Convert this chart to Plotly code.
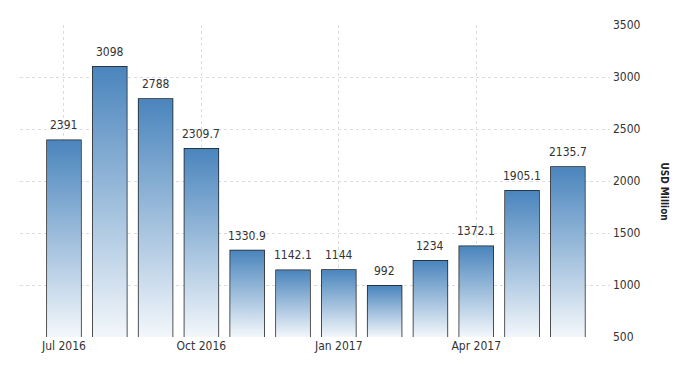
import plotly.graph_objects as go

months = ["Jul 2016", "Aug 2016", "Sep 2016", "Oct 2016", "Nov 2016", "Dec 2016",
          "Jan 2017", "Feb 2017", "Mar 2017", "Apr 2017", "May 2017", "Jun 2017"]
values = [2391, 3098, 2788, 2309.7, 1330.9, 1142.1, 1144, 992, 1234, 1372.1, 1905.1, 2135.7]
labels = ["2391", "3098", "2788", "2309.7", "1330.9", "1142.1", "1144", "992", "1234",
          "1372.1", "1905.1", "2135.7"]
tick_idx = [0, 3, 6, 9]
tick_text = ["Jul 2016", "Oct 2016", "Jan 2017", "Apr 2017"]
y_ticks = [500, 1000, 1500, 2000, 2500, 3000, 3500]

FONT = "DejaVu Sans Condensed, Liberation Sans Narrow, Arial Narrow, Liberation Sans, sans-serif"
BAR_W = 0.74
Y_MIN, Y_MAX = 500, 3500

fig = go.Figure()

# gradient fills for each bar
for i, v in enumerate(values):
    fig.add_trace(go.Scatter(
        x=[i - BAR_W / 2, i + BAR_W / 2], y=[v, v],
        mode="lines", line=dict(width=0), fill="tozeroy",
        fillgradient=dict(type="vertical",
                          colorscale=[[0, "#f3f7fb"], [1, "#4a85bd"]],
                          start=Y_MIN, stop=v),
        hoverinfo="skip", showlegend=False))

# outlines
fig.add_trace(go.Bar(
    x=list(range(len(values))), y=values, width=BAR_W,
    marker=dict(color="rgba(0,0,0,0)", line=dict(color="#1c1c1c", width=1.5)),
    hoverinfo="y", showlegend=False))

annotations = [dict(x=i, y=v, text=t, xref="x", yref="y", showarrow=False,
                    yanchor="bottom", yshift=6,
                    font=dict(family=FONT, size=12, color="#333333"))
               for i, (v, t) in enumerate(zip(values, labels))]
annotations.append(dict(text="<b>USD Million</b>", xref="paper", yref="paper",
                        x=1.105, y=0.465, showarrow=False, textangle=90,
                        font=dict(family=FONT, size=10, color="#222222")))

fig.update_layout(
    width=700, height=375,
    margin=dict(l=20, r=90, t=25, b=38),
    paper_bgcolor="white", plot_bgcolor="white",
    font=dict(family=FONT, size=12, color="#333333"),
    xaxis=dict(range=[-0.96, 11.92], tickvals=tick_idx, ticktext=tick_text,
               showgrid=True, gridcolor="#dcdcdc", griddash="dot", gridwidth=1,
               zeroline=False, showline=False, ticks="",
               tickfont=dict(family=FONT, size=12, color="#333333")),
    yaxis=dict(range=[Y_MIN, Y_MAX], side="right", tickvals=y_ticks,
               showgrid=True, gridcolor="#dcdcdc", griddash="dot", gridwidth=1,
               zeroline=False, showline=False, ticks="", ticklabelstandoff=2,
               tickfont=dict(family=FONT, size=12, color="#333333")),
    annotations=annotations,
)

fig.write_html("out.html")
